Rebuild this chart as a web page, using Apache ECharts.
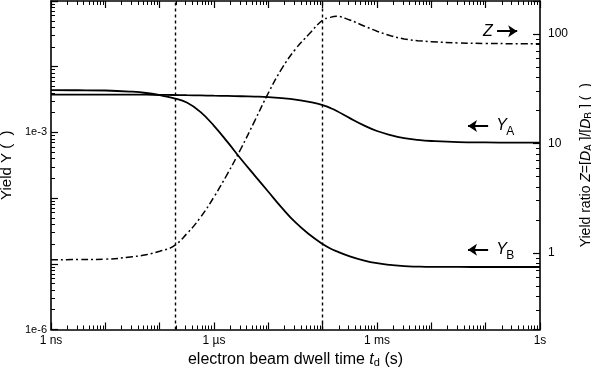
<!DOCTYPE html>
<html><head><meta charset="utf-8">
<script src="https://cdn.jsdelivr.net/npm/echarts@6/dist/echarts.min.js"></script>
<style>html,body{margin:0;padding:0;background:#fff}#c{width:591px;height:371px}</style>
</head><body><div id="c"></div>
<script>
// dwell time t_d (s)
const times = [1e-9, 3.16e-9, 1e-8, 3.16e-8, 5.62e-8, 1e-7, 1.78e-7, 3.16e-7, 5.62e-7, 1e-6,
  1.78e-6, 3.16e-6, 5.62e-6, 1e-5, 1.78e-5, 3.16e-5, 5.62e-5, 1e-4, 1.33e-4, 1.78e-4,
  3.16e-4, 5.62e-4, 1e-3, 1.78e-3, 3.16e-3, 5.62e-3, 1e-2, 3.16e-2, 0.1, 0.316, 1];
// Yield Y_A (left axis)
const yieldA = [3.77e-3, 3.77e-3, 3.77e-3, 3.76e-3, 3.75e-3, 3.73e-3, 3.71e-3, 3.68e-3, 3.65e-3, 3.62e-3,
  3.59e-3, 3.55e-3, 3.51e-3, 3.45e-3, 3.33e-3, 3.16e-3, 2.91e-3, 2.61e-3, 2.38e-3, 2.14e-3,
  1.65e-3, 1.29e-3, 1.05e-3, 9.1e-4, 8.2e-4, 7.7e-4, 7.4e-4, 7.1e-4, 7.03e-4, 7.0e-4, 7.0e-4];
// Yield Y_B (left axis)
const yieldB = [4.39e-3, 4.38e-3, 4.34e-3, 4.16e-3, 3.98e-3, 3.68e-3, 3.32e-3, 2.85e-3, 2.05e-3, 1.26e-3,
  7.1e-4, 3.9e-4, 2.2e-4, 1.25e-4, 7.1e-5, 4.26e-5, 2.82e-5, 2.0e-5, 1.74e-5, 1.56e-5,
  1.30e-5, 1.13e-5, 1.02e-5, 9.6e-6, 9.2e-6, 9.05e-6, 8.97e-6, 8.95e-6, 8.94e-6, 8.94e-6, 8.94e-6];
// Yield ratio Z (right axis)
const ratioZ = [0.867, 0.871, 0.878, 0.924, 0.963, 1.037, 1.151, 1.50, 2.11, 3.25,
  5.31, 9.04, 16.1, 28.9, 48.4, 72.7, 99.8, 134, 141, 145,
  134, 119, 106, 96.5, 90.1, 86.9, 85.1, 82.8, 81.9, 81.6, 81.6];
// vertical dotted marker times
const markerTimes = [1.9e-7, 1e-4];
// axis ranges
const xRange = [1e-9, 1];
const yRange = [1e-6, 1e-1];
const zRange = [0.2, 200];
// tick labels
const xTickValues = [1e-9, 1e-6, 1e-3, 1];
const xTickLabels = ['1 ns', '1 µs', '1 ms', '1s'];
const yTickValues = [1e-6, 1e-3];
const yTickLabels = ['1e-6', '1e-3'];
const zTickValues = [1, 10, 100];
const zTickLabels = ['1', '10', '100'];

function fmt(vals, labels) {
  return function (v) {
    const lv = Math.log10(v);
    for (let i = 0; i < vals.length; i++) {
      if (Math.abs(lv - Math.log10(vals[i])) < 1e-6) return labels[i];
    }
    return '';
  };
}
const FONT = 'Liberation Sans, Arial, sans-serif';
const black = '#000';
const axisLine = { show: true, onZero: false, lineStyle: { color: black, width: 1.6 } };
const axisTick = { show: true, inside: true, length: 7, lineStyle: { color: black, width: 1.2 } };
const minorTick = { show: true, splitNumber: 9, length: 4, lineStyle: { color: black, width: 1 } };
const richFor = size => ({
  i: { fontStyle: 'italic', fontSize: size, fontFamily: FONT, color: black },
  s: { fontSize: Math.round(size * 0.7), fontFamily: FONT, color: black, padding: [Math.round(size * 0.5), 0, 0, 0] }
});
const noteLabel = (txt, size, italic, offset) => ({
  show: true, position: 'right', distance: 0, offset: offset || [0, 0], formatter: txt,
  fontSize: size, fontStyle: italic ? 'italic' : 'normal', color: black, fontFamily: FONT
});

const chart = echarts.init(document.getElementById('c'), null, { renderer: 'canvas' });
const pairs = arr => times.map((t, i) => [t, arr[i]]);
const SMOOTH = 0.45;

chart.setOption({
  animation: false,
  backgroundColor: '#fff',
  textStyle: { fontFamily: FONT },
  grid: { left: 51, right: 51, top: 1, bottom: 41.5, containLabel: false, outerBoundsMode: 'none' },
  xAxis: [{
    type: 'log', min: xRange[0], max: xRange[1], position: 'bottom',
    axisLine, axisTick, minorTick, splitLine: { show: false },
    axisLabel: { interval: 0, margin: 5, color: black, fontSize: 12, fontFamily: FONT, formatter: fmt(xTickValues, xTickLabels) },
    name: 'electron beam dwell time {i|t}{s|d} (s)', nameLocation: 'middle', nameGap: 19,
    nameTextStyle: { fontSize: 16, color: black, fontFamily: FONT, rich: richFor(16) }
  }, {
    type: 'log', min: xRange[0], max: xRange[1], position: 'top',
    axisLine, axisTick, minorTick, splitLine: { show: false },
    axisLabel: { show: false }
  }],
  yAxis: [{
    type: 'log', min: yRange[0], max: yRange[1], position: 'left',
    axisLine, axisTick, minorTick, splitLine: { show: false },
    axisLabel: { interval: 0, margin: 4, color: black, fontSize: 11, fontFamily: FONT, formatter: fmt(yTickValues, yTickLabels) },
    name: 'Yield Y (  )', nameLocation: 'middle', nameGap: 36, nameRotate: 90,
    nameTextStyle: { fontSize: 15, color: black, fontFamily: FONT }
  }, {
    type: 'log', min: zRange[0], max: zRange[1], position: 'right',
    axisLine, axisTick, minorTick, splitLine: { show: false },
    axisLabel: { interval: 0, margin: 8, color: black, fontSize: 12, fontFamily: FONT, formatter: fmt(zTickValues, zTickLabels) },
    name: 'Yield ratio {i|Z}=[{i|D}{s|A} ]/[{i|D}{s|B} ] (  )', nameLocation: 'middle', nameGap: 29, nameRotate: 90,
    nameTextStyle: { fontSize: 14, color: black, fontFamily: FONT, rich: richFor(14) }
  }],
  series: [{
    name: 'YA', type: 'line', xAxisIndex: 0, yAxisIndex: 0, data: pairs(yieldA),
    showSymbol: false, smooth: SMOOTH, lineStyle: { color: black, width: 1.8 }, silent: true,
    markLine: {
      silent: true, symbol: ['none', 'none'], label: { show: false },
      lineStyle: { color: black, width: 1.4, type: [3, 3] },
      data: markerTimes.map(t => [{ coord: [t, yRange[0]] }, { coord: [t, yRange[1]] }])
    }
  }, {
    name: 'YA-note', type: 'line', xAxisIndex: 0, yAxisIndex: 0, data: [],
    markLine: {
      silent: true, symbol: ['none', 'arrow'], symbolSize: 9, label: { show: false },
      lineStyle: { color: black, width: 2, type: 'solid' },
      data: [[{ coord: [0.111, 1.25e-3] }, { coord: [0.0473, 1.25e-3] }],
             [{ coord: [0.111, 1.64e-5] }, { coord: [0.0473, 1.64e-5] }]]
    },
    markPoint: {
      silent: true, symbol: 'circle', symbolSize: 0,
      data: [
        { coord: [0.156, 1.25e-3], label: noteLabel('Y', 16, true) },
        { coord: [0.156, 1.25e-3], label: noteLabel('A', 12, false, [10, 6]) },
        { coord: [0.156, 1.64e-5], label: noteLabel('Y', 16, true) },
        { coord: [0.156, 1.64e-5], label: noteLabel('B', 12, false, [10, 6]) }
      ]
    }
  }, {
    name: 'YB', type: 'line', xAxisIndex: 0, yAxisIndex: 0, data: pairs(yieldB),
    showSymbol: false, smooth: SMOOTH, lineStyle: { color: black, width: 1.8 }, silent: true
  }, {
    name: 'Z', type: 'line', xAxisIndex: 0, yAxisIndex: 1, data: pairs(ratioZ),
    showSymbol: false, smooth: SMOOTH, lineStyle: { color: black, width: 1.5, type: [7, 3, 2, 3] }, silent: true,
    markLine: {
      silent: true, symbol: ['none', 'arrow'], symbolSize: 9, label: { show: false },
      lineStyle: { color: black, width: 2, type: 'solid' },
      data: [[{ coord: [0.162, 106] }, { coord: [0.38, 106] }]]
    },
    markPoint: {
      silent: true, symbol: 'circle', symbolSize: 0,
      data: [{ coord: [0.0895, 106], label: noteLabel('Z', 16, true) }]
    }
  }]
});
</script>
</body></html>
